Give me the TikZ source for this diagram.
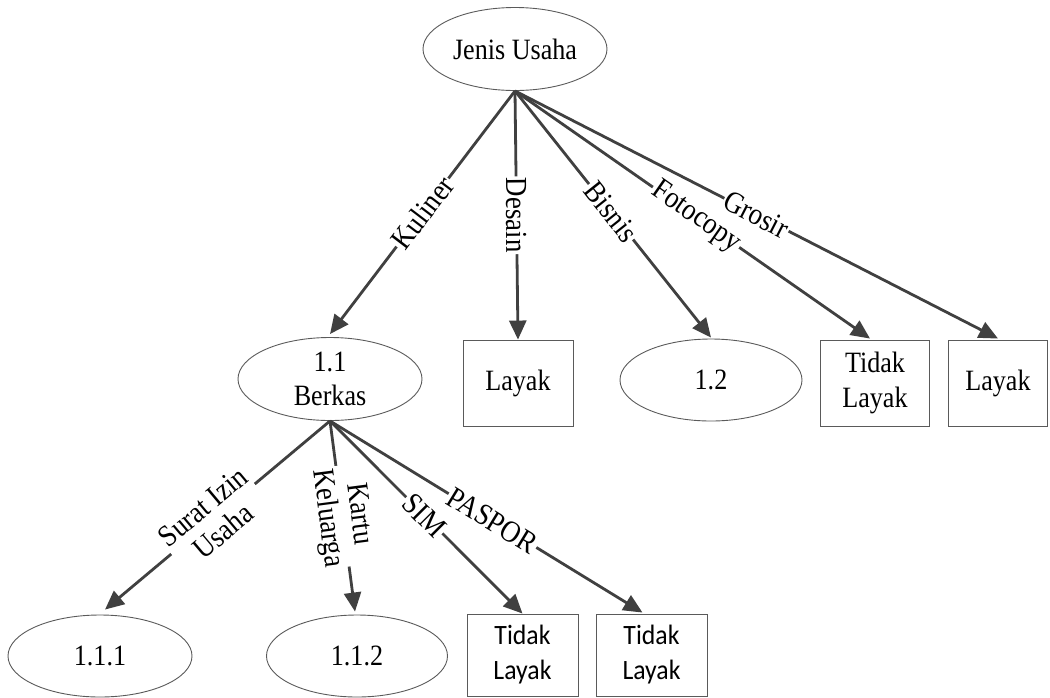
\documentclass[tikz,border=0pt]{standalone}
\usepackage{fontspec}
\setmainfont{Liberation Serif}[FakeStretch=0.885]
\newfontfamily\sansf{Carlito}[FakeStretch=0.92]
\usetikzlibrary{shapes.geometric,arrows.meta,calc}
\definecolor{edgec}{HTML}{404040}
\definecolor{shapec}{HTML}{5A5A5A}
\begin{document}
\begin{tikzpicture}[x=1pt,y=-1pt,
  every node/.style={font=\fontsize{29.5}{34}\selectfont},
  ell/.style={ellipse,draw=shapec,line width=0.9pt,inner sep=0pt,align=center},
  box/.style={rectangle,draw=shapec,line width=0.9pt,inner sep=0pt,align=center},
  conn/.style={draw=edgec,line width=2.8pt,-{Triangle[length=19pt,width=17pt]}},
  lab/.style={sloped,fill=white,inner sep=1.5pt,align=center,font=\fontsize{30.5}{32}\selectfont}]
\useasboundingbox (0,0) rectangle (1050,697);
% nodes
\node[ell,minimum width=184pt,minimum height=83pt] (jenis) at (515,49) {Jenis Usaha};
\node[ell,minimum width=184pt,minimum height=83pt] (berkas) at (330,379) {1.1\\Berkas};
\node[box,minimum width=110pt,minimum height=86pt] (layak1) at (518,383) {Layak};
\node[ell,minimum width=182pt,minimum height=82pt] (e12) at (711,380) {1.2};
\node[box,minimum width=109pt,minimum height=86pt,font=\fontsize{29.5}{35}\selectfont] (tl1) at (875,383) {Tidak\\Layak};
\node[box,minimum width=99pt,minimum height=86pt] (layak2) at (998,383) {Layak};
\node[ell,minimum width=184pt,minimum height=82pt] (e111) at (100,656) {1.1.1};
\node[ell,minimum width=181pt,minimum height=82pt] (e112) at (357,656) {1.1.2};
\node[box,minimum width=111pt,minimum height=82pt,font=\sansf\fontsize{28}{35}\selectfont] (tl2) at (522.5,655) {Tidak\\Layak};
\node[box,minimum width=111pt,minimum height=82pt,font=\sansf\fontsize{28}{35}\selectfont] (tl3) at (651.5,655) {Tidak\\Layak};
\coordinate (tl1in) at ($(tl1.north)+(-5,-1)$);
\coordinate (tl3in) at ($(tl3.north)+(-9,-1)$);
% connectors
\draw[conn] (jenis.south) -- node[lab,pos=0.5] {Kuliner} ($(berkas.north)+(0,-3)$);
\draw[conn] (jenis.south) -- node[lab,pos=0.5] {Desain} (layak1.north);
\draw[conn] (jenis.south) -- node[lab,pos=0.49] {Bisnis} ($(e12.north)+(0,-1)$);
\draw[conn] (jenis.south) -- node[lab,pos=0.51] {Fotocopy} (tl1in);
\draw[conn] (jenis.south) -- node[lab,pos=0.5] {Grosir} ($(layak2.north)+(0,-1)$);
\draw[conn] (berkas.south) -- node[lab,pos=0.52] {Surat Izin\\Usaha} ($(e111.north)+(5,-5)$);
\draw[conn] (berkas.south) -- node[lab,pos=0.5] {Kartu\\Keluarga} ($(e112.north)+(-2,-3)$);
\draw[conn] (berkas.south) -- node[lab,pos=0.49] {SIM} (tl2.north);
\draw[conn] (berkas.south) -- node[lab,pos=0.52] {PASPOR} (tl3in);
\end{tikzpicture}
\end{document}
